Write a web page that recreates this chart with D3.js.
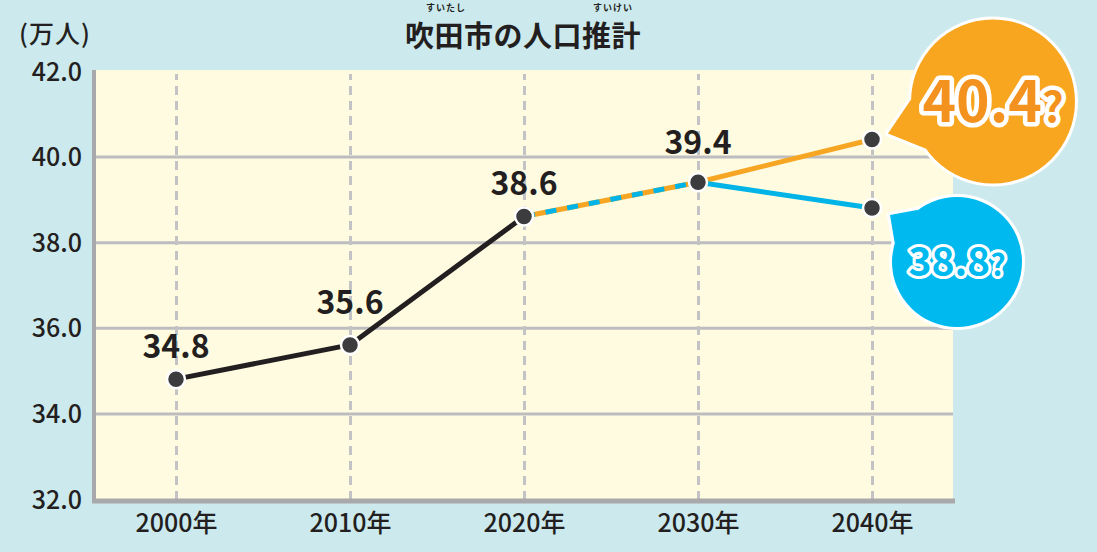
<!DOCTYPE html>
<html lang="ja">
<head>
<meta charset="utf-8">
<script src="https://cdn.jsdelivr.net/npm/d3@7"></script>
<style>
  html, body { margin: 0; padding: 0; background: #cce9ee; }
  svg { display: block; font-family: "Noto Sans CJK JP", "Noto Sans", sans-serif; }
</style>
</head>
<body>
<svg id="chart" width="1097" height="552"></svg>
<script>
// Suita city population estimate (10,000 people)
const years = [2000, 2010, 2020, 2030, 2040];
const yearLabels = ["2000年", "2010年", "2020年", "2030年", "2040年"];
const actualYears = [2000, 2010, 2020];
const actualValues = [34.8, 35.6, 38.6];
const forecastYears = [2020, 2030];
const forecastValues = [38.6, 39.4];
const highYears = [2030, 2040];
const highValues = [39.4, 40.4];
const lowYears = [2030, 2040];
const lowValues = [39.4, 38.8];
const pointLabels = ["34.8", "35.6", "38.6", "39.4"];
const pointLabelYears = [2000, 2010, 2020, 2030];
const pointLabelValues = [34.8, 35.6, 38.6, 39.4];
const yTicks = [32, 34, 36, 38, 40, 42];
const yGridTicks = [34, 36, 38, 40];

const svg = d3.select("#chart");
const W = 1097, H = 552;
const plot = { left: 96, right: 953, top: 70, bottom: 500 };

const x = d3.scaleLinear().domain([2000, 2040]).range([176, 872]);
const y = d3.scaleLinear().domain([32, 42]).range([499, 71]);

// background
svg.append("rect").attr("width", W).attr("height", H).attr("fill", "#cce9ee");
svg.append("rect")
  .attr("x", plot.left).attr("y", plot.top)
  .attr("width", plot.right - plot.left).attr("height", plot.bottom - plot.top)
  .attr("fill", "#fefbe1");

// horizontal grid
const gridY = svg.append("g")
  .attr("transform", `translate(${plot.left},0)`)
  .call(d3.axisRight(y).tickValues(yGridTicks).tickSize(plot.right - plot.left).tickFormat(""));
gridY.select(".domain").remove();
gridY.selectAll(".tick line").attr("stroke", "#bdbdbf").attr("stroke-width", 3);

// vertical dashed grid
const gridX = svg.append("g")
  .attr("transform", `translate(0,${plot.bottom})`)
  .call(d3.axisTop(x).tickValues(years).tickSize(plot.bottom - plot.top - 4).tickFormat(""));
gridX.select(".domain").remove();
gridX.selectAll(".tick line")
  .attr("stroke", "#c3c3c5").attr("stroke-width", 3).attr("stroke-dasharray", "9,6");

// axis lines
svg.append("line")
  .attr("x1", plot.left - 2).attr("x2", plot.left - 2)
  .attr("y1", plot.top).attr("y2", plot.bottom + 3)
  .attr("stroke", "#a9a9ab").attr("stroke-width", 4);
svg.append("line")
  .attr("x1", plot.left - 4).attr("x2", plot.right + 2)
  .attr("y1", plot.bottom + 1).attr("y2", plot.bottom + 1)
  .attr("stroke", "#a9a9ab").attr("stroke-width", 5);

// y tick labels
const yAxis = svg.append("g")
  .attr("transform", `translate(82,0)`)
  .call(d3.axisLeft(y).tickValues(yTicks).tickSize(0).tickPadding(0).tickFormat(d3.format(".1f")));
yAxis.select(".domain").remove();
yAxis.selectAll("text")
  .attr("font-size", 25).attr("font-weight", 500).attr("fill", "#231f20")
  .attr("font-family", "'Noto Sans CJK JP', sans-serif")
  .attr("dy", "0.36em").attr("text-anchor", "end");

// x tick labels
const xAxis = svg.append("g")
  .attr("transform", `translate(0,512)`)
  .call(d3.axisBottom(x).tickValues(years).tickSize(0).tickPadding(0)
    .tickFormat((d, i) => yearLabels[i]));
xAxis.select(".domain").remove();
xAxis.selectAll("text")
  .attr("font-size", 25).attr("font-weight", 500).attr("fill", "#231f20")
  .attr("font-family", "'Noto Sans CJK JP', sans-serif")
  .attr("dy", "0.8em");

// unit label
svg.append("text").attr("x", 19).attr("y", 43)
  .attr("font-size", 25).attr("font-weight", 500).attr("fill", "#231f20")
  .attr("letter-spacing", 1).text("(万人)");

// title with furigana
svg.append("text").attr("x", 446).attr("y", 10.8).attr("text-anchor", "middle")
  .attr("font-size", 9).attr("font-weight", "bold").attr("fill", "#231f20")
  .attr("letter-spacing", 1).text("すいたし");
svg.append("text").attr("x", 613).attr("y", 10.8).attr("text-anchor", "middle")
  .attr("font-size", 9).attr("font-weight", "bold").attr("fill", "#231f20")
  .attr("letter-spacing", 1).text("すいけい");
svg.append("text").attr("x", 523).attr("y", 47).attr("text-anchor", "middle")
  .attr("font-size", 29).attr("font-weight", "bold").attr("fill", "#231f20")
  .attr("letter-spacing", 0.5).text("吹田市の人口推計");

const line = d3.line().x(d => x(d[0])).y(d => y(d[1]));
const zip = (a, b) => a.map((v, i) => [v, b[i]]);

// high projection
svg.append("path").datum(zip(highYears, highValues)).attr("d", line)
  .attr("fill", "none").attr("stroke", "#f6a623").attr("stroke-width", 5);
// low projection
svg.append("path").datum(zip(lowYears, lowValues)).attr("d", line)
  .attr("fill", "none").attr("stroke", "#00b4e8").attr("stroke-width", 5);
// shared projection (two-colour dashed)
svg.append("path").datum(zip(forecastYears, forecastValues)).attr("d", line)
  .attr("fill", "none").attr("stroke", "#f6a623").attr("stroke-width", 5);
svg.append("path").datum(zip(forecastYears, forecastValues)).attr("d", line)
  .attr("fill", "none").attr("stroke", "#00b4e8").attr("stroke-width", 5)
  .attr("stroke-dasharray", "11,11");
// actual values
svg.append("path").datum(zip(actualYears, actualValues)).attr("d", line)
  .attr("fill", "none").attr("stroke", "#231f20").attr("stroke-width", 5)
  .attr("stroke-linejoin", "round");

// markers
const markers = [
  ...zip(actualYears, actualValues),
  [forecastYears[1], forecastValues[1]],
  [highYears[1], highValues[1]],
  [lowYears[1], lowValues[1]]
];
svg.append("g").selectAll("circle").data(markers).join("circle")
  .attr("cx", d => x(d[0])).attr("cy", d => y(d[1])).attr("r", 9)
  .attr("fill", "#3c3b3d").attr("stroke", "#ffffff").attr("stroke-width", 2.5);

// value labels
const labelOffsets = [21, 31, 22, 28];
svg.append("g").selectAll("text").data(pointLabels).join("text")
  .attr("x", (d, i) => x(pointLabelYears[i]))
  .attr("y", (d, i) => y(pointLabelValues[i]) - labelOffsets[i])
  .attr("text-anchor", "middle")
  .attr("font-size", 32).attr("font-weight", "bold").attr("fill", "#231f20")
  .text(d => d);

// speech bubbles for 2040 projections
function bubble(cx, cy, r, tip, fill, textFill, label, fs, qfs) {
  const g = svg.append("g");
  const a1 = Math.atan2(tip[1] - cy, tip[0] - cx);
  const spread = 0.32;
  const tail = [
    tip,
    [cx + r * Math.cos(a1 - spread), cy + r * Math.sin(a1 - spread)],
    [cx + r * Math.cos(a1 + spread), cy + r * Math.sin(a1 + spread)]
  ];
  // white outline
  g.append("circle").attr("cx", cx).attr("cy", cy).attr("r", r)
    .attr("fill", "#fff").attr("stroke", "#fff").attr("stroke-width", 6);
  g.append("polygon").attr("points", tail.map(p => p.join(",")).join(" "))
    .attr("fill", "#fff").attr("stroke", "#fff").attr("stroke-width", 6).attr("stroke-linejoin", "round");
  // fill
  g.append("circle").attr("cx", cx).attr("cy", cy).attr("r", r).attr("fill", fill);
  g.append("polygon").attr("points", tail.map(p => p.join(",")).join(" ")).attr("fill", fill);
  const t = g.append("text").attr("x", cx).attr("y", cy + fs * 0.36)
    .attr("text-anchor", "middle")
    .attr("font-family", "'Noto Sans CJK JP', sans-serif")
    .attr("font-weight", "bold").attr("font-size", fs)
    .attr("fill", textFill).attr("stroke", "#fff").attr("stroke-width", fs * 0.16)
    .attr("stroke-linejoin", "round").attr("paint-order", "stroke");
  t.append("tspan").text(label);
  t.append("tspan").attr("font-size", qfs).text("?");
}

const hx = x(highYears[1]), hy = y(highValues[1]);
bubble(hx + 121, hy - 38, 82, [hx + 16, hy - 6], "#f8a61f", "#f3921f", String(highValues[1]), 57, 42);
const lx = x(lowYears[1]), ly = y(lowValues[1]);
bubble(lx + 85, ly + 54, 65, [lx + 18, ly + 7], "#00b9ee", "#00b9ee", String(lowValues[1]), 39, 30);
</script>
</body>
</html>
